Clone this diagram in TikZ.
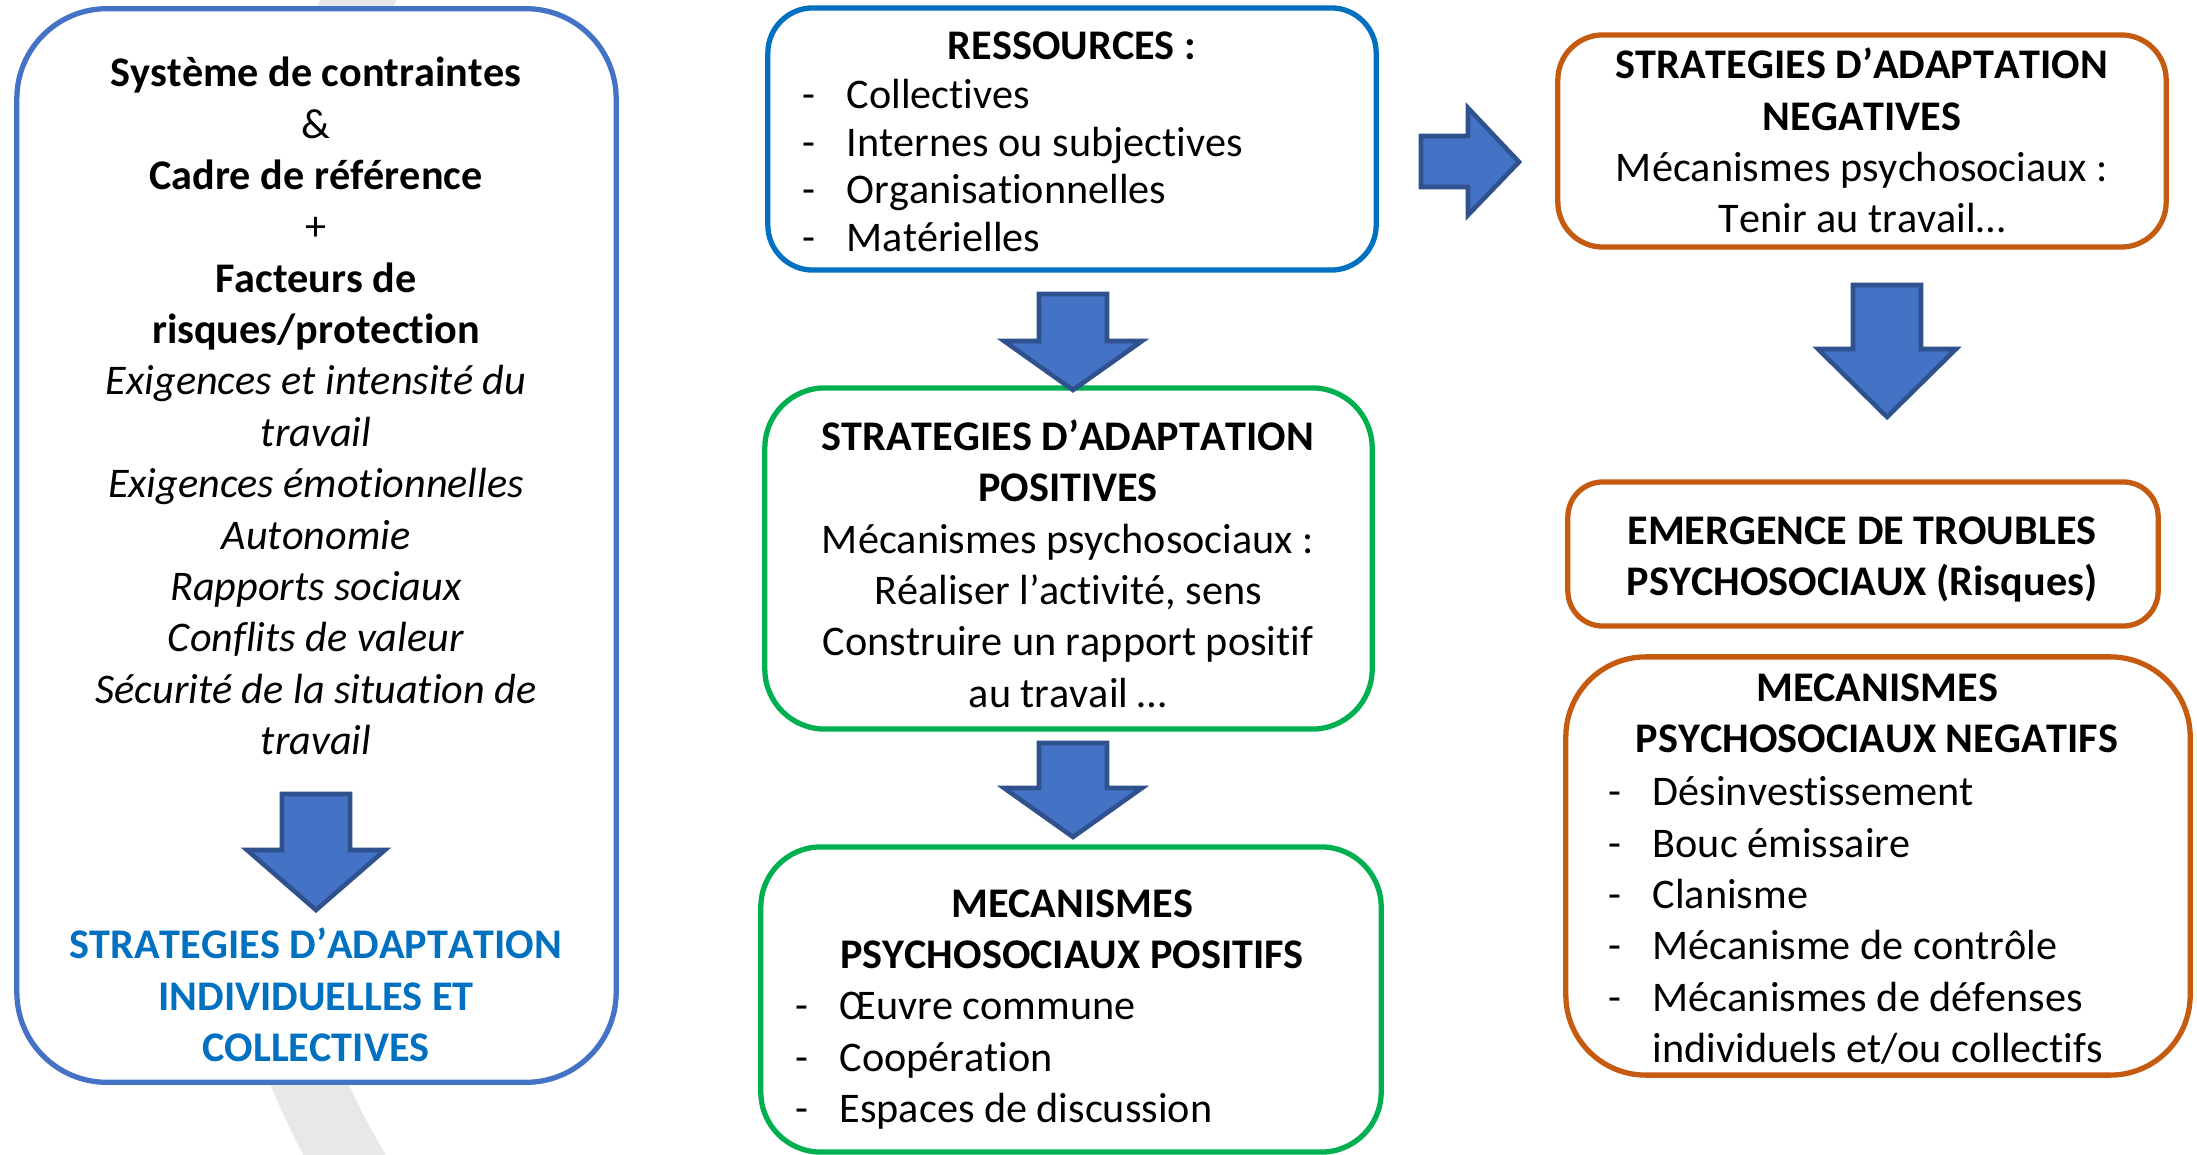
\documentclass[tikz,border=0pt]{standalone}
\usepackage{fontspec}
\setmainfont{Carlito}[Kerning=Off, Ligatures=NoCommon]
\usetikzlibrary{positioning}
\definecolor{boxblue}{RGB}{68,114,196}
\definecolor{resblue}{RGB}{0,112,192}
\definecolor{posgreen}{RGB}{0,176,80}
\definecolor{negorange}{RGB}{197,90,17}
\definecolor{arrowfill}{RGB}{68,114,196}
\definecolor{arrowline}{RGB}{47,82,143}
\definecolor{bandgray}{RGB}{231,232,232}
\tikzset{
  box/.style={draw, line width=1.5pt, fill=white, inner sep=0pt},
  txt/.style={align=center, inner sep=0pt, font=\fontsize{12}{14.6}\selectfont},
  lst/.style={align=left, inner sep=0pt, anchor=west, font=\fontsize{12}{14.6}\selectfont},
  blockarrow/.style={fill=arrowfill, draw=arrowline, line width=1.3pt},
}
\newcommand{\puce}{\makebox[0.44cm][l]{-}}
\newcommand{\suite}{\hspace*{0.44cm}}
\newcommand{\downblock}[4]{\draw[blockarrow] (#1-34,#2) -- (#1+34,#2) -- (#1+34,#3) -- (#1+69,#3) -- (#1,#4) -- (#1-69,#3) -- (#1-34,#3) -- cycle;}

\begin{document}
\begin{tikzpicture}[x=0.01cm, y=-0.01cm]
\useasboundingbox (0,0) rectangle (2197,1155);
\begin{scope}
\clip (0,0) rectangle (2197,1155);
\draw[bandgray, line width=0.72cm] (365,-20) .. controls (230,360) and (150,850) .. (365,1190);
\end{scope}

\node[box, draw=boxblue, rounded corners=0.9cm, minimum width=5.99cm, minimum height=10.73cm] (sysbox) at (316.5,545.5) {};
\node[box, draw=resblue, rounded corners=0.45cm, minimum width=6.08cm, minimum height=2.62cm] (res) at (1072,139) {};
\node[box, draw=posgreen, rounded corners=0.6cm, minimum width=6.07cm, minimum height=3.41cm] (pos) at (1068.5,558.5) {};
\node[box, draw=posgreen, rounded corners=0.6cm, minimum width=6.2cm, minimum height=3.05cm] (mpos) at (1071,999.5) {};
\node[box, draw=negorange, rounded corners=0.45cm, minimum width=6.08cm, minimum height=2.12cm] (neg) at (1862,141) {};
\node[box, draw=negorange, rounded corners=0.35cm, minimum width=5.9cm, minimum height=1.44cm] (emer) at (1863,554) {};
\node[box, draw=negorange, rounded corners=0.8cm, minimum width=6.24cm, minimum height=4.18cm] (mneg) at (1878,866) {};

\node[txt] (sys) at (316,406) {\textbf{Système de contraintes}\\\&\\\textbf{Cadre de référence}\\+\\\textbf{Facteurs de}\\\textbf{risques/protection}\\
  \textit{Exigences et intensité du}\\\textit{travail}\\\textit{Exigences émotionnelles}\\\textit{Autonomie}\\\textit{Rapports sociaux}\\\textit{Conflits de valeur}\\\textit{Sécurité de la situation de}\\\textit{travail}};
\node[txt, text=resblue, font=\fontsize{12}{14.6}\selectfont\bfseries] (indiv) at (316,995) {STRATEGIES D’ADAPTATION\\INDIVIDUELLES ET\\COLLECTIVES};

\node[txt, font=\fontsize{12}{13.5}\selectfont\bfseries] (restitle) at (1072,46) {RESSOURCES :};
\node[lst, font=\fontsize{12}{13.5}\selectfont] (reslist) at (802,165.5) {\puce Collectives\\\puce Internes ou subjectives\\\puce Organisationnelles\\\puce Matérielles};

\node[txt] (postext) at (1068,563.5) {\textbf{STRATEGIES D’ADAPTATION}\\\textbf{POSITIVES}\\Mécanismes psychosociaux :\\Réaliser l’activité, sens\\Construire un rapport positif\\au travail …};

\node[txt, font=\fontsize{12}{14.6}\selectfont\bfseries] (mpostitle) at (1072,929) {MECANISMES\\PSYCHOSOCIAUX POSITIFS};
\node[lst] (mposlist) at (795,1061) {\puce Œuvre commune\\\puce Coopération\\\puce Espaces de discussion};

\node[txt] (negtext) at (1862,140.5) {\textbf{STRATEGIES D’ADAPTATION}\\\textbf{NEGATIVES}\\Mécanismes psychosociaux :\\Tenir au travail…};
\node[txt, font=\fontsize{12}{14.6}\selectfont\bfseries] (emertext) at (1862,559.5) {EMERGENCE DE TROUBLES\\PSYCHOSOCIAUX (Risques)};

\node[txt, font=\fontsize{12}{14.6}\selectfont\bfseries] (mnegtitle) at (1877,713) {MECANISMES\\PSYCHOSOCIAUX NEGATIFS};
\node[lst] (mneglist) at (1608,920.5) {\puce Désinvestissement\\\puce Bouc émissaire\\\puce Clanisme\\\puce Mécanisme de contrôle\\\puce Mécanismes de défenses\\\suite individuels et/ou collectifs};

\downblock{316}{794}{850}{910}
\downblock{1073}{294}{341}{390}
\downblock{1073}{743}{788}{837}
\downblock{1887}{285}{349}{417}
\draw[blockarrow] (1421,136) -- (1468,136) -- (1468,108) -- (1519,162) -- (1468,215) -- (1468,187) -- (1421,187) -- cycle;
\end{tikzpicture}
\end{document}
